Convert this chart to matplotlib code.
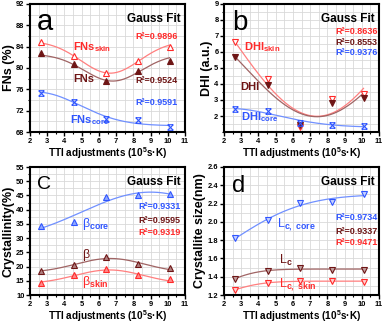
import numpy as np
import matplotlib
matplotlib.use("Agg")
import matplotlib.pyplot as plt
from matplotlib.path import Path
from matplotlib.ticker import MultipleLocator, FormatStrFormatter

plt.rcParams['font.family'] = ['Liberation Sans', 'DejaVu Sans']
plt.rcParams['font.weight'] = 'bold'
plt.rcParams['mathtext.fontset'] = 'custom'
plt.rcParams['mathtext.rm'] = 'Liberation Sans'
plt.rcParams['mathtext.bf'] = 'Liberation Sans:bold'
plt.rcParams['mathtext.it'] = 'Liberation Sans:italic'

# ---------------- data ----------------
tti = [2.65, 4.55, 6.4, 8.25, 10.1]

fns_skin = [84.9, 82.2, 79.0, 81.4, 84.0]
fns = [82.8, 80.7, 77.5, 79.5, 81.3]
fns_core = [75.4, 73.7, 70.5, 70.2, 68.9]

dhi_skin = [6.6, 4.3, 1.31, 3.07, 3.38]
dhi = [5.68, 3.92, 1.45, 2.82, 3.13]
dhi_core = [2.42, 2.29, 1.58, 1.46, 1.38]

beta_core = [34.4, 35.8, 44.6, 45.3, 45.5]
beta = [18.4, 20.4, 23.3, 20.9, 19.4]
beta_skin = [14.1, 16.9, 19.0, 16.9, 15.6]

lc_core = [1.82, 2.02, 2.21, 2.215, 2.305]
lc = [1.38, 1.465, 1.498, 1.477, 1.477]
lc_skin = [1.258, 1.333, 1.351, 1.355, 1.347]

r2_a = ["0.9896", "0.9524", "0.9591"]
r2_b = ["0.8636", "0.8553", "0.9376"]
r2_c = ["0.9331", "0.9595", "0.9319"]
r2_d = ["0.9734", "0.9337", "0.9471"]

# ---------------- styles ----------------
RED = "#ff2a2a"
DARK = "#6e1515"
BLUE = "#2f55ff"
LRED = "#ff7f7f"
LDARK = "#a06464"
LBLUE = "#7090ff"

xmark = Path([(-1, -1), (1, 1), (-1, 1), (1, -1), (-1, 1), (1, 1), (-1, -1), (1, -1)],
             [Path.MOVETO, Path.LINETO, Path.MOVETO, Path.LINETO,
              Path.MOVETO, Path.LINETO, Path.MOVETO, Path.LINETO])


def gauss_fit(x, y, wmin=2.5, wmax=40):
    x = np.asarray(x, float)
    y = np.asarray(y, float)
    xcs = np.linspace(-15, 25, 801)
    ws = np.linspace(wmin, wmax, 376)
    XC, W = np.meshgrid(xcs, ws, indexing='ij')
    g = np.exp(-2 * ((x[None, None, :] - XC[..., None]) / W[..., None]) ** 2)
    gm = g.mean(-1, keepdims=True)
    ym = y.mean()
    vg = ((g - gm) ** 2).sum(-1)
    cv = ((g - gm) * (y - ym)).sum(-1)
    with np.errstate(divide='ignore', invalid='ignore'):
        slope = np.where(vg > 1e-12, cv / vg, 0.0)
    inter = ym - slope * gm[..., 0]
    pred = inter[..., None] + slope[..., None] * g
    res = ((pred - y) ** 2).sum(-1)
    res = np.where(vg > 1e-12, res, np.inf)
    i, j = np.unravel_index(np.argmin(res), res.shape)
    xc, w, A, y0 = xcs[i], ws[j], slope[i, j], inter[i, j]
    xx = np.linspace(x.min(), x.max(), 200)
    return xx, y0 + A * np.exp(-2 * ((xx - xc) / w) ** 2)


fig = plt.figure(figsize=(3.85, 3.23), dpi=100)
W_ = 155 / 385
H_ = 128 / 323
pos = {
    'a': [30 / 385, 1 - 132 / 323, W_, H_],
    'b': [224 / 385, 1 - 132 / 323, W_, H_],
    'c': [30 / 385, 1 - 295 / 323, W_, H_],
    'd': [224 / 385, 1 - 295 / 323, W_, H_],
}


def setup(ax, ylim, ymaj, ymin_, yticks=None):
    ax.set_xlim(2, 11)
    ax.set_ylim(*ylim)
    ax.xaxis.set_major_locator(MultipleLocator(1))
    ax.xaxis.set_minor_locator(MultipleLocator(0.5))
    if yticks is not None:
        ax.set_yticks(yticks)
    else:
        ax.yaxis.set_major_locator(MultipleLocator(ymaj))
    ax.yaxis.set_minor_locator(MultipleLocator(ymin_))
    ax.grid(True, which='both', color='#d9d9d9', lw=0.6)
    ax.set_axisbelow(True)
    for s in ax.spines.values():
        s.set_linewidth(1.5)
    ax.tick_params(which='major', direction='out', length=3, width=1, labelsize=5.4, pad=1)
    ax.tick_params(which='minor', direction='out', length=1.5, width=0.8)
    for lab in ax.get_xticklabels() + ax.get_yticklabels():
        lab.set_fontweight('bold')
    ax.set_xlabel("TTI adjustments (10$^\\mathbf{5}$s·K)", fontsize=7.2, fontweight='bold', labelpad=0.5)
    ax.text(0.97, 0.93, "Gauss Fit", transform=ax.transAxes, ha='right', va='top',
            fontsize=8.5, fontweight='bold')


def series(ax, y, mk, mfc, mec, lc_, ms=4.5, mew=0.8, wmin=2.5):
    xx, yy = gauss_fit(tti, y, wmin=wmin)
    ax.plot(xx, yy, color=lc_, lw=0.9, zorder=2)
    ax.plot(tti, y, ls='none', marker=mk, ms=ms, mfc=mfc, mec=mec, mew=mew, zorder=3)


# ---------------- panel a ----------------
ax = fig.add_axes(pos['a'])
setup(ax, (68, 92), 4, 2)
series(ax, fns_skin, '^', 'white', RED, LRED)
series(ax, fns, '^', DARK, DARK, LDARK)
series(ax, fns_core, xmark, 'none', BLUE, LBLUE, ms=4, wmin=5)
ax.set_ylabel("FNs (%)", fontsize=9, fontweight='bold', labelpad=1)
ax.text(2.39, 87.1, "a", fontsize=21, fontweight='normal')
ax.text(8.09, 85.9, "R²=" + r2_a[0], color=RED, fontsize=6.5, va='center')
ax.text(8.09, 77.7, "R²=" + r2_a[1], color=DARK, fontsize=6.5, va='center')
ax.text(8.09, 73.5, "R²=" + r2_a[2], color=BLUE, fontsize=6.5, va='center')
ax.text(4.5, 83.9, "FNs$_\\mathbf{skin}$", color=RED, fontsize=8, va='center')
ax.text(4.5, 77.85, "FNs", color=DARK, fontsize=8, va='center')
ax.text(4.32, 70.3, "FNs$_\\mathbf{core}$", color=BLUE, fontsize=8, va='center')

# ---------------- panel b ----------------
ax = fig.add_axes(pos['b'])
setup(ax, (1, 9), 1, 0.5, yticks=[2, 3, 4, 5, 6, 7, 8, 9])
series(ax, dhi_skin, 'v', 'white', RED, LRED)
series(ax, dhi, 'v', DARK, DARK, LDARK)
series(ax, dhi_core, xmark, 'none', BLUE, LBLUE, ms=4, wmin=6)
ax.set_ylabel("DHI (a.u.)", fontsize=9, fontweight='bold', labelpad=1)
ax.text(2.48, 7.37, "b", fontsize=20, fontweight='normal')
ax.text(8.48, 7.27, "R²=" + r2_b[0], color=RED, fontsize=6.5, va='center')
ax.text(8.48, 6.6, "R²=" + r2_b[1], color=DARK, fontsize=6.5, va='center')
ax.text(8.48, 5.95, "R²=" + r2_b[2], color=BLUE, fontsize=6.5, va='center')
ax.text(3.16, 6.33, "DHI$_\\mathbf{skin}$", color=RED, fontsize=8, va='center')
ax.text(2.97, 3.82, "DHI", color=DARK, fontsize=8, va='center')
ax.text(2.97, 1.94, "DHI$_\\mathbf{core}$", color=BLUE, fontsize=8, va='center')

# ---------------- panel c ----------------
ax = fig.add_axes(pos['c'])
setup(ax, (10, 55), 5, 2.5)
series(ax, beta_core, '^', '#8fa8ff', BLUE, LBLUE, wmin=8)
series(ax, beta, '^', '#b08080', DARK, LDARK, wmin=4)
series(ax, beta_skin, '^', '#ff8a8a', RED, LRED, wmin=4)
ax.set_ylabel("Crystallinity(%)", fontsize=9, fontweight='bold', labelpad=1)
ax.text(2.39, 47.4, "C", fontsize=14, fontweight='normal')
ax.text(8.29, 41.0, "R²=" + r2_c[0], color=BLUE, fontsize=6.5, va='center')
ax.text(8.29, 36.3, "R²=" + r2_c[1], color=DARK, fontsize=6.5, va='center')
ax.text(8.29, 31.9, "R²=" + r2_c[2], color=RED, fontsize=6.5, va='center')
ax.text(5.0, 35.1, "β$_\\mathrm{core}$", color=BLUE, fontsize=9, va='center', fontweight='normal')
ax.text(5.0, 24.0, "β", color=DARK, fontsize=9, va='center', fontweight='normal')
ax.text(5.0, 14.7, "β$_\\mathrm{skin}$", color=RED, fontsize=9, va='center', fontweight='normal')

# ---------------- panel d ----------------
ax = fig.add_axes(pos['d'])
setup(ax, (1.2, 2.6), 0.2, 0.1)
ax.yaxis.set_major_formatter(FormatStrFormatter('%.1f'))
series(ax, lc_core, 'v', '#c8d2ff', BLUE, LBLUE, wmin=5)
series(ax, lc, 'v', '#c0a0a0', DARK, LDARK, wmin=4)
series(ax, lc_skin, 'v', '#ffd0d0', RED, LRED, wmin=4)
ax.set_ylabel("Crystallite size(nm)", fontsize=9, fontweight='bold', labelpad=1)
ax.text(2.45, 2.33, "d", fontsize=17, fontweight='normal')
ax.text(8.48, 2.044, "R²=" + r2_d[0], color=BLUE, fontsize=6.5, va='center')
ax.text(8.48, 1.90, "R²=" + r2_d[1], color=DARK, fontsize=6.5, va='center')
ax.text(8.48, 1.775, "R²=" + r2_d[2], color=RED, fontsize=6.5, va='center')
ax.text(5.1, 1.97, "L$_\\mathrm{c,\\ core}$", color=BLUE, fontsize=9, va='center', fontweight='normal')
ax.text(5.19, 1.58, "L$_\\mathrm{c}$", color=DARK, fontsize=9, va='center', fontweight='normal')
ax.text(5.19, 1.31, "L$_\\mathrm{c,\\ skin}$", color=RED, fontsize=9, va='center', fontweight='normal')

fig.savefig("out.png", dpi=100)
